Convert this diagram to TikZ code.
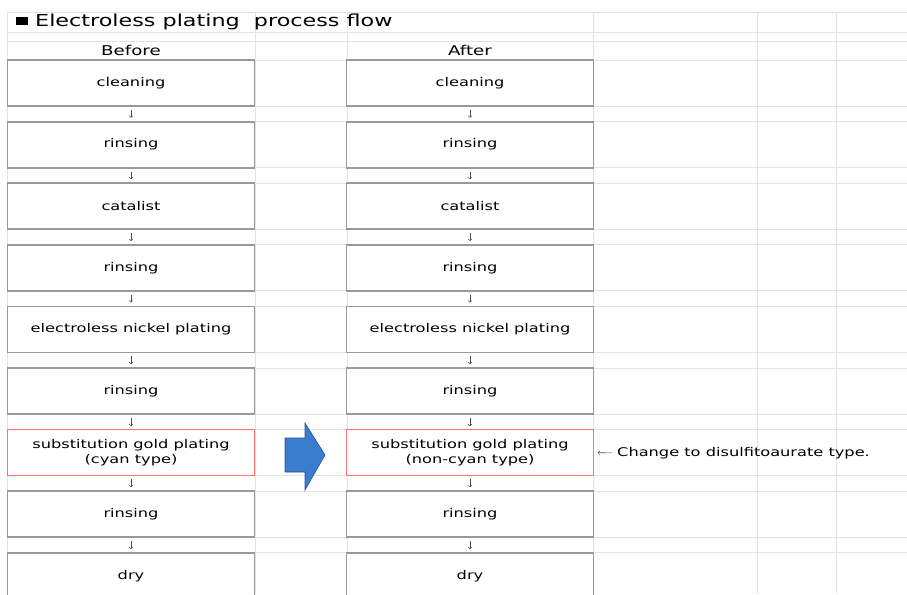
\documentclass[tikz,border=0pt]{standalone}
\usepackage{fontspec}
\setmainfont{DejaVu Sans}[FakeStretch=1.35]
\definecolor{shiftblue}{RGB}{58,124,206}
\definecolor{shiftedge}{RGB}{38,82,146}
\begin{document}
\begin{tikzpicture}[
    x=1pt, y=-1pt,
    grid/.style={
      gray!22,
      line width=0.8pt
    },
    stepbox/.style={
      draw=gray!80,
      line width=1.8pt,
      fill=white,
      minimum width=247pt,
      minimum height=46pt,
      inner sep=0pt,
      align=center,
      font=\fontsize{12}{15}\selectfont
    },
    changebox/.style={
      stepbox,
      draw=red!55,
      line width=0.8pt
    },
    flow/.style={
      ->,
      black!70,
      line width=0.6pt,
      shorten <=3pt,
      shorten >=3pt
    }
  ]

    \useasboundingbox (0,0) rectangle (907,594);
    \clip (0,0) rectangle (907,594);

    % Spreadsheet grid behind the chart
    \foreach \y in {12,32,41} {
      \draw[grid] (7,\y) -- (907,\y);
    }
    \foreach \k in {0,...,8} {
      \pgfmathsetmacro{\ytop}{60+61.6*\k}
      \draw[grid] (7,\ytop) -- (907,\ytop);
      \draw[grid] (7,\ytop+46) -- (907,\ytop+46);
    }
    \foreach \x in {7,255,347,593,757,836} {
      \draw[grid] (\x,12) -- (\x,594);
    }

    % Title and column headers
    \node[anchor=base west, inner sep=0pt, font=\fontsize{16.5}{19}\selectfont] (title) at (16,27)
      {\rule[2pt]{12pt}{8pt}\hspace{7pt}Electroless plating\ \ process flow};
    \node[font=\fontsize{13.5}{16}\selectfont] (before) at (131,50) {Before};
    \node[font=\fontsize{13.5}{16}\selectfont] (after) at (470,50) {After};

    % Process steps (both columns)
    \foreach \k/\txt in {1/cleaning,2/rinsing,3/catalist,4/rinsing,5/electroless nickel plating,6/rinsing,8/rinsing,9/dry} {
      \pgfmathsetmacro{\ymid}{83+61.6*(\k-1)}
      \node[stepbox] (before\k) at (131,\ymid) {\txt};
      \node[stepbox] (after\k) at (470,\ymid) {\txt};
    }

    % The changed step
    \node[changebox] (before7) at (131,452.6) {substitution gold plating\\(cyan type)};
    \node[changebox] (after7) at (470,452.6) {substitution gold plating\\(non-cyan type)};

    % Flow arrows
    \foreach \k/\n in {1/2,2/3,3/4,4/5,5/6,6/7,7/8,8/9} {
      \draw[flow] (before\k) -- (before\n);
      \draw[flow] (after\k) -- (after\n);
    }

    % Before -> After block arrow
    \filldraw[fill=shiftblue, draw=shiftedge, line width=0.6pt]
      (285,438) -- (305,438) -- (305,423) -- (325,455) -- (305,490) -- (305,472) -- (285,472) -- cycle;

    % Note on the changed step
    \node[anchor=west, inner sep=0pt, font=\fontsize{12}{15}\selectfont] (note) at (617,453)
      {Change to disulfitoaurate type.};
    \draw[flow, shorten <=5pt, shorten >=4pt] (note.west) -- (after7.east);

  \end{tikzpicture}
\end{document}
